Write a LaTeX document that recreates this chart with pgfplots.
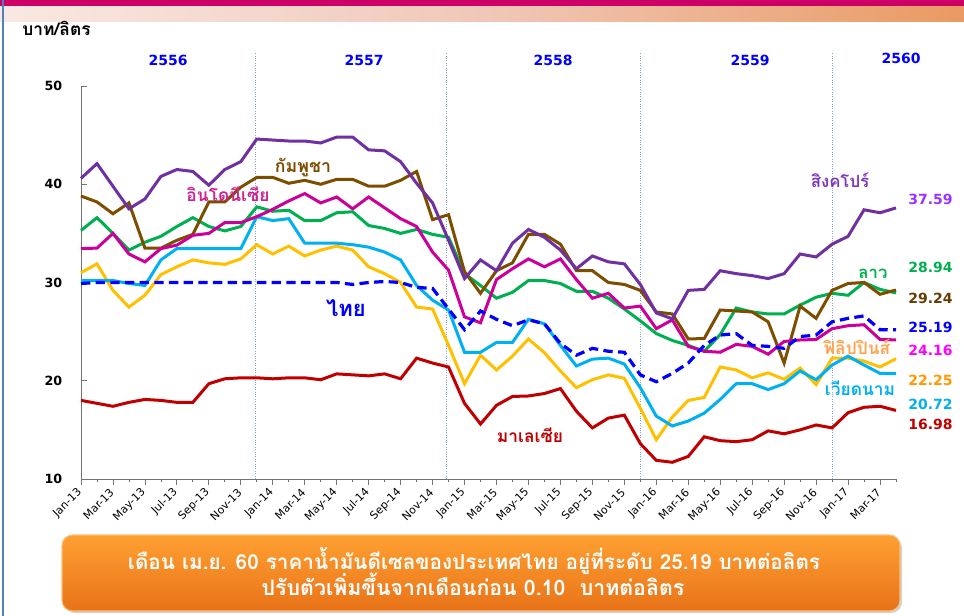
\documentclass[border=0pt]{standalone}
\usepackage{pgfplots}
\usepackage{pgfplotstable}
\pgfplotsset{compat=1.18}
\usepackage{fontspec}
\setmainfont{DejaVu Sans}
\newfontfamily\thai[Script=Thai]{Loma}
\usetikzlibrary{shadows}

\definecolor{cSG}{RGB}{112,48,160}
\definecolor{cKH}{RGB}{125,78,0}
\definecolor{cLA}{RGB}{0,176,80}
\definecolor{cID}{RGB}{204,0,153}
\definecolor{cVN}{RGB}{0,176,240}
\definecolor{cPH}{RGB}{255,192,0}
\definecolor{cMY}{RGB}{192,0,0}
\definecolor{cTH}{RGB}{0,0,255}
\definecolor{cSep}{RGB}{79,129,189}
\definecolor{hdrBar}{RGB}{204,0,102}
\definecolor{hMid}{RGB}{240,200,185}
\definecolor{hEnd}{RGB}{227,108,10}
\definecolor{boxTop}{RGB}{255,160,50}
\definecolor{boxBot}{RGB}{232,115,25}
\definecolor{boxEdge}{RGB}{250,190,120}
\pgfdeclarehorizontalshading{hdrshade}{100bp}{color(0bp)=(white); color(8bp)=(white); color(50bp)=(hMid); color(100bp)=(hEnd)}

\pgfplotstableread{
i sg kh la id vn ph my th
0 40.6 38.8 35.3 33.45 30.2 31.0 18.0 29.9
1 42.1 38.2 36.6 33.5 30.2 31.9 17.7 30.0
2 39.8 37.0 35.0 35.0 30.2 29.2 17.4 30.0
3 37.5 38.1 33.3 32.9 29.9 27.5 17.8 30.0
4 38.5 33.5 34.1 32.1 29.7 28.7 18.1 30.0
5 40.8 33.5 34.7 33.45 32.3 30.8 18.0 30.0
6 41.5 34.3 35.7 33.8 33.45 31.6 17.8 30.0
7 41.3 34.9 36.6 34.8 33.45 32.3 17.8 30.0
8 39.9 38.2 35.7 35.0 33.45 32.0 19.7 30.0
9 41.5 38.2 35.25 36.1 33.45 31.85 20.2 30.0
10 42.3 39.7 35.7 36.1 33.45 32.4 20.3 30.0
11 44.6 40.7 37.7 36.7 36.7 33.85 20.3 30.0
12 44.5 40.7 37.25 37.45 36.3 32.9 20.2 30.0
13 44.4 40.1 37.35 38.3 36.5 33.7 20.3 30.0
14 44.4 40.4 36.3 39.05 34.0 32.7 20.3 30.0
15 44.2 40.0 36.3 38.1 34.0 33.3 20.1 30.0
16 44.8 40.5 37.1 38.7 34.0 33.7 20.7 30.0
17 44.8 40.5 37.2 37.5 33.85 33.3 20.6 29.8
18 43.5 39.8 35.8 38.7 33.6 31.6 20.5 30.0
19 43.4 39.8 35.5 37.6 33.1 30.9 20.7 30.1
20 42.3 40.4 35.0 36.5 32.3 30.0 20.2 30.0
21 40.1 41.3 35.4 35.7 29.7 27.5 22.3 29.5
22 38.1 36.4 34.9 33.1 28.2 27.3 21.8 29.4
23 34.3 36.9 34.6 31.25 27.2 23.6 21.4 27.3
24 30.4 31.1 30.9 26.5 22.9 19.7 17.7 25.2
25 32.3 28.9 29.7 25.9 22.9 22.6 15.6 27.1
26 31.2 31.2 28.4 30.3 23.9 21.1 17.5 26.25
27 34.0 32.0 29.0 31.4 23.9 22.5 18.4 25.6
28 35.4 34.9 30.2 32.4 26.25 24.25 18.45 26.2
29 34.6 34.9 30.2 31.6 25.8 22.85 18.7 25.8
30 33.3 33.9 29.9 32.4 23.6 21.0 19.2 23.8
31 31.4 31.2 29.1 30.3 21.5 19.3 16.9 22.6
32 32.7 31.2 29.1 28.4 22.2 20.1 15.2 23.3
33 32.1 30.0 28.4 28.9 22.3 20.6 16.2 23.0
34 31.9 29.8 27.3 27.4 21.7 20.25 16.5 22.9
35 29.8 29.2 26.1 27.6 19.3 17.2 13.6 20.6
36 26.9 27.0 24.8 25.3 16.4 14.0 11.9 19.9
37 26.3 26.8 24.1 26.2 15.4 16.3 11.7 20.75
38 29.2 24.25 23.6 23.5 15.9 18.0 12.3 21.8
39 29.3 24.3 23.0 23.0 16.7 18.3 14.3 23.6
40 31.2 27.2 24.7 22.9 18.1 21.4 13.9 24.65
41 30.9 27.1 27.4 23.7 19.7 21.1 13.8 24.8
42 30.7 27.0 27.0 23.5 19.7 20.3 14.0 23.6
43 30.4 26.0 26.8 22.7 19.1 20.8 14.9 23.5
44 30.9 21.8 26.8 24.0 19.7 20.15 14.6 23.3
45 32.9 27.6 27.7 24.15 21.0 21.3 15.0 24.5
46 32.6 26.35 28.5 24.2 20.1 19.6 15.5 24.65
47 33.9 29.2 28.9 25.3 21.6 22.3 15.2 26.0
48 34.7 29.9 28.7 25.6 22.5 22.3 16.75 26.35
49 37.4 30.0 30.0 25.7 21.6 22.0 17.3 26.6
50 37.1 28.8 29.3 24.2 20.75 21.4 17.4 25.2
51 37.59 29.24 28.94 24.16 20.72 22.25 16.98 25.19
}\prices

\begin{document}
\begin{tikzpicture}
\begin{scope}[x=0.75pt,y=-0.75pt]
\path[use as bounding box] (0,0) rectangle (964,616);
\fill[white] (0,0) rectangle (964,616);
\shade[shading=hdrshade] (0,6) rectangle (964,22);
\fill[hdrBar] (0,0) rectangle (964,6);
\draw[cSep, line width=1.5pt] (3,0) -- (3,616);
\end{scope}

\begin{axis}[
  at={(60.75pt,-359.25pt)}, anchor=south west,
  scale only axis, width=611.25pt, height=294.75pt,
  xmin=0, xmax=51, ymin=10, ymax=50,
  clip=false,
  axis x line*=bottom, axis y line*=left,
  axis line style={draw=black!55, line width=0.7pt},
  xtick={0,2,...,50},
  xticklabels={Jan-13,Mar-13,May-13,Jul-13,Sep-13,Nov-13,Jan-14,Mar-14,May-14,Jul-14,Sep-14,Nov-14,Jan-15,Mar-15,May-15,Jul-15,Sep-15,Nov-15,Jan-16,Mar-16,May-16,Jul-16,Sep-16,Nov-16,Jan-17,Mar-17},
  minor xtick={1,3,...,51},
  xtick align=outside, ytick align=inside,
  major tick length=4.5pt, minor tick length=2.2pt,
  tick style={draw=black!55, line width=0.6pt},
  xticklabel shift=3.5pt,
  x tick label style={rotate=45, anchor=east, font=\fontsize{8.2}{9}\selectfont, inner sep=1pt},
  ytick={10,20,30,40,50},
  /pgf/number format/assume math mode=true,
  y tick label style={font=\bfseries\fontsize{9.5}{10}\selectfont, xshift=-10.5pt},
]
\foreach \s in {10.93,22.88,35.0,47.04}{
  \edef\temp{\noexpand\draw[cSep!70, densely dotted, line width=0.8pt] (axis cs:\s,10) -- (axis cs:\s,53.46);}
  \temp
}
\addplot[cPH, line width=2.25pt, no marks] table[x=i,y=ph] {\prices};
\addplot[cVN, line width=2.25pt, no marks] table[x=i,y=vn] {\prices};
\addplot[cLA, line width=2.25pt, no marks] table[x=i,y=la] {\prices};
\addplot[cKH, line width=2.25pt, no marks] table[x=i,y=kh] {\prices};
\addplot[cID, line width=2.25pt, no marks] table[x=i,y=id] {\prices};
\addplot[cSG, line width=2.25pt, no marks] table[x=i,y=sg] {\prices};
\addplot[cMY, line width=2.25pt, no marks] table[x=i,y=my] {\prices};
\addplot[cTH, line width=2.4pt, no marks, dash pattern=on 7pt off 4pt] table[x=i,y=th] {\prices};
\end{axis}

\begin{scope}[x=0.75pt,y=-0.75pt]
% unit label
\node[anchor=base west, inner sep=0pt, font=\thai\bfseries\fontsize{13}{14}\selectfont] at (22,36) {บาท/ลิตร};
% years
\foreach \xx/\yy/\t in {168/66/2556, 364/66/2557, 553/66/2558, 750/66/2559, 901/64/2560}{
  \node[anchor=base, inner sep=0pt, text=cTH, font=\bfseries\fontsize{10.5}{12}\selectfont] at (\xx,\yy) {\t};
}
% series names
\node[anchor=base, inner sep=0pt, text=cKH, font=\thai\bfseries\fontsize{13.3}{14}\selectfont] at (303,173) {กัมพูชา};
\node[anchor=base, inner sep=0pt, text={rgb,255:red,208;green,32;blue,143}, font=\thai\bfseries\fontsize{13}{14}\selectfont] at (228,202) {อินโดนีเซีย};
\node[anchor=base, inner sep=0pt, text=cTH, font=\thai\bfseries\fontsize{16.5}{18}\selectfont] at (346,317) {ไทย};
\node[anchor=base, inner sep=0pt, text=cMY, font=\thai\bfseries\fontsize{13}{14}\selectfont] at (530,443) {มาเลเซีย};
\node[anchor=base, inner sep=0pt, text={rgb,255:red,127;green,55;blue,190}, font=\thai\bfseries\fontsize{12.6}{14}\selectfont] at (840,188) {สิงคโปร์};
\node[anchor=base, inner sep=0pt, text=cLA, font=\thai\bfseries\fontsize{12.6}{14}\selectfont] at (873,279) {ลาว};
\node[anchor=base, inner sep=0pt, text={rgb,255:red,255;green,165;blue,80}, font=\thai\bfseries\fontsize{13}{14}\selectfont] at (857,355) {ฟิลิปปินส์};
\node[anchor=base, inner sep=0pt, text=cVN, font=\thai\bfseries\fontsize{13}{14}\selectfont] at (860,396) {เวียดนาม};
% end values
\node[anchor=west, inner sep=0pt, text={rgb,255:red,153;green,51;blue,255}, font=\bfseries\fontsize{10.5}{12}\selectfont] at (908,199) {37.59};
\node[anchor=west, inner sep=0pt, text=cLA, font=\bfseries\fontsize{10.5}{12}\selectfont] at (908,267) {28.94};
\node[anchor=west, inner sep=0pt, text={rgb,255:red,102;green,60;blue,0}, font=\bfseries\fontsize{10.5}{12}\selectfont] at (908,298) {29.24};
\node[anchor=west, inner sep=0pt, text=cTH, font=\bfseries\fontsize{10.5}{12}\selectfont] at (908,327) {25.19};
\node[anchor=west, inner sep=0pt, text={rgb,255:red,255;green,0;blue,255}, font=\bfseries\fontsize{10.5}{12}\selectfont] at (908,350) {24.16};
\node[anchor=west, inner sep=0pt, text={rgb,255:red,255;green,153;blue,0}, font=\bfseries\fontsize{10.5}{12}\selectfont] at (908,380) {22.25};
\node[anchor=west, inner sep=0pt, text=cVN, font=\bfseries\fontsize{10.5}{12}\selectfont] at (908,404) {20.72};
\node[anchor=west, inner sep=0pt, text=cMY, font=\bfseries\fontsize{10.5}{12}\selectfont] at (908,424) {16.98};
% bottom box
\shade[top color=boxTop, bottom color=boxBot, draw=boxEdge, line width=0.8pt, rounded corners=8pt, drop shadow={opacity=0.35, shadow xshift=1.5pt, shadow yshift=-1.5pt}] (62,535) rectangle (900,611);
\node[anchor=base, inner sep=0pt, text=white] at (474,569) {\resizebox{519pt}{!}{\thai\bfseries เดือน เม.ย. 60 ราคาน้ำมันดีเซลของประเทศไทย อยู่ที่ระดับ 25.19 บาทต่อลิตร}};
\node[anchor=base, inner sep=0pt, text=white] at (473,595) {\resizebox{317pt}{!}{\thai\bfseries ปรับตัวเพิ่มขึ้นจากเดือนก่อน 0.10~ บาทต่อลิตร}};
\end{scope}
\end{tikzpicture}
\end{document}
